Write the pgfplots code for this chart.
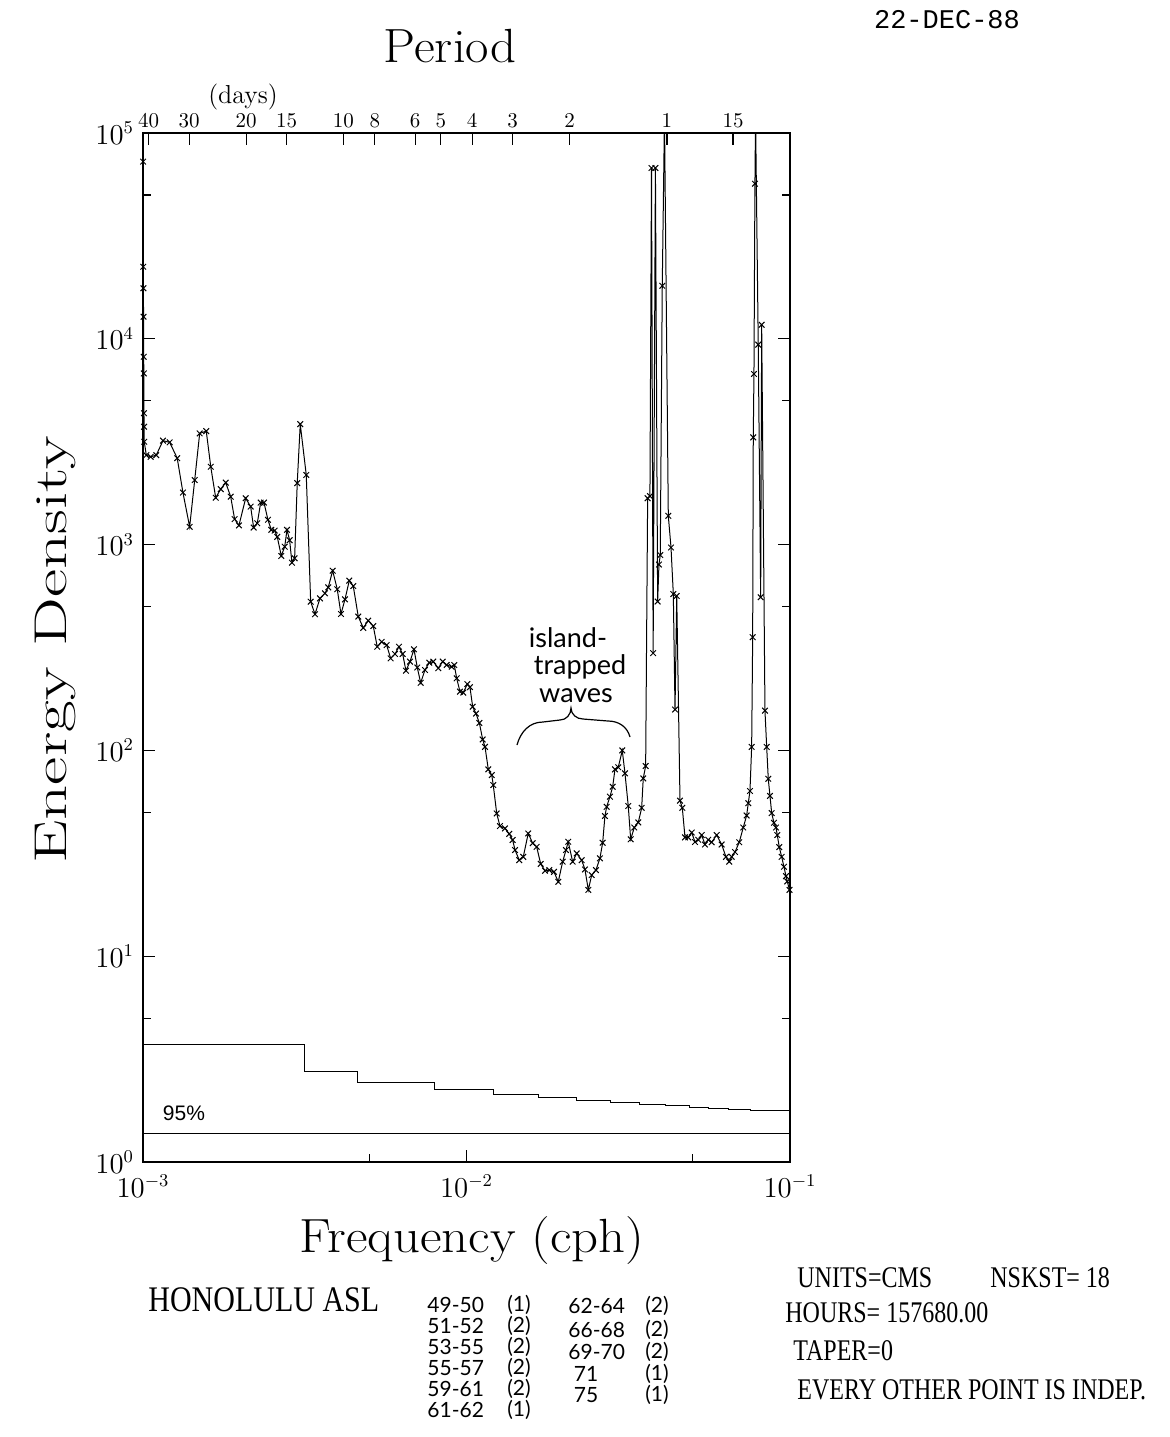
\documentclass[border=0pt]{standalone}
\usepackage{fontspec}
\usepackage{graphicx}
\usepackage{pgfplots}
\pgfplotsset{compat=1.18}
\newfontfamily\libserif{Liberation Serif}
\newfontfamily\libsans{Liberation Sans}
\newfontfamily\libmono{Liberation Mono}
\newfontfamily\hand{Lato}

\pgfplotstableread{
f E
1.0005e-3 2.0e5
1.001e-3 7.26e4
1.002e-3 2.24e4
1.003e-3 1.76e4
1.004e-3 1.28e4
1.005e-3 8.18e3
1.006e-3 6.79e3
1.007e-3 4.35e3
1.008e-3 3.74e3
1.009e-3 3.16e3
1.024e-3 2720
1.056e-3 2670
1.099e-3 2720
1.153e-3 3200
1.209e-3 3140
1.276e-3 2630
1.329e-3 1790
1.394e-3 1220
1.445e-3 2060
1.497e-3 3470
1.569e-3 3560
1.620e-3 2390
1.678e-3 1690
1.739e-3 1860
1.802e-3 2000
1.867e-3 1710
1.920e-3 1330
1.980e-3 1240
2.077e-3 1680
2.152e-3 1530
2.198e-3 1210
2.256e-3 1270
2.311e-3 1600
2.366e-3 1600
2.434e-3 1320
2.492e-3 1180
2.553e-3 1170
2.601e-3 1090
2.676e-3 881
2.742e-3 977
2.787e-3 1180
2.840e-3 1050
2.887e-3 817
2.943e-3 858
2.998e-3 1990
3.063e-3 3850
3.197e-3 2180
3.299e-3 528
3.402e-3 459
3.525e-3 548
3.652e-3 580
3.739e-3 620
3.858e-3 747
3.987e-3 607
4.093e-3 460
4.211e-3 542
4.342e-3 668
4.467e-3 629
4.629e-3 447
4.797e-3 394
4.970e-3 427
5.150e-3 402
5.298e-3 319
5.467e-3 337
5.665e-3 325
5.829e-3 280
6.012e-3 294
6.185e-3 319
6.350e-3 294
6.500e-3 244
6.688e-3 270
6.882e-3 310
7.046e-3 253
7.218e-3 213
7.443e-3 246
7.674e-3 267
7.896e-3 270
8.182e-3 251
8.442e-3 270
8.686e-3 260
9.000e-3 255
9.169e-3 260
9.327e-3 224
9.548e-3 193
9.774e-3 191
1.006e-2 210
1.025e-2 203
1.045e-2 163
1.070e-2 151
1.096e-2 136
1.122e-2 113
1.141e-2 104
1.168e-2 80.9
1.197e-2 75.9
1.210e-2 67.9
1.240e-2 49.4
1.269e-2 42.9
1.315e-2 41.8
1.356e-2 39.3
1.389e-2 36.7
1.413e-2 32.8
1.456e-2 29.3
1.498e-2 30.4
1.552e-2 39.5
1.602e-2 35.4
1.648e-2 34.0
1.696e-2 28.1
1.749e-2 26.0
1.803e-2 26.2
1.864e-2 25.7
1.922e-2 23.0
1.983e-2 28.8
2.030e-2 32.8
2.063e-2 36.0
2.129e-2 28.8
2.191e-2 31.6
2.270e-2 29.3
2.324e-2 26.4
2.380e-2 21.0
2.438e-2 24.8
2.513e-2 26.2
2.585e-2 29.9
2.636e-2 35.6
2.679e-2 48.0
2.712e-2 53.2
2.776e-2 59.6
2.831e-2 66.6
2.877e-2 80.9
2.946e-2 82.8
3.031e-2 100
3.090e-2 77.4
3.163e-2 53.7
3.218e-2 37.0
3.302e-2 42.2
3.397e-2 44.7
3.480e-2 52.6
3.519e-2 73.1
3.580e-2 84.0
3.631e-2 1680
3.691e-2 1720
3.732e-2 67600
3.776e-2 297
3.838e-2 67600
3.899e-2 529
3.936e-2 800
3.973e-2 890
4.029e-2 18100
4.093e-2 120000
4.206e-2 1380
4.288e-2 968
4.359e-2 575
4.412e-2 158
4.466e-2 563
4.571e-2 57.0
4.647e-2 52.6
4.737e-2 37.8
4.849e-2 37.8
4.968e-2 39.9
5.086e-2 35.9
5.206e-2 36.8
5.333e-2 38.8
5.460e-2 34.9
5.589e-2 36.8
5.726e-2 35.8
5.934e-2 38.8
6.149e-2 34.9
6.340e-2 30.4
6.491e-2 28.8
6.603e-2 30.4
6.761e-2 32.1
6.970e-2 35.8
7.171e-2 42.2
7.347e-2 48.3
7.432e-2 55.4
7.522e-2 63.5
7.613e-2 104
7.668e-2 355
7.701e-2 3320
7.739e-2 6750
7.794e-2 56700
7.828e-2 120000
7.980e-2 9370
8.117e-2 555
8.175e-2 11700
8.369e-2 156
8.472e-2 104
8.568e-2 72.8
8.673e-2 60.1
8.778e-2 49.6
8.923e-2 44.5
9.051e-2 42.2
9.135e-2 38.8
9.266e-2 33.9
9.425e-2 30.4
9.581e-2 27.2
9.719e-2 24.5
9.808e-2 23.1
9.966e-2 21.0
}\spectrum

\pgfplotstableread{
f E
1.000e-3 3.74
3.163e-3 2.75
4.593e-3 2.43
7.987e-3 2.245
1.211e-2 2.133
1.674e-2 2.063
2.191e-2 2.001
2.787e-2 1.957
3.425e-2 1.913
4.126e-2 1.877
4.887e-2 1.844
5.614e-2 1.816
6.451e-2 1.795
7.528e-2 1.775
1.000e-1 1.775
}\conf

\begin{document}
\begin{tikzpicture}
\useasboundingbox (0,0) rectangle (584.5pt,-718.5pt);
\begin{axis}[
  at={(71.5pt,-66.5pt)}, anchor=north west, scale only axis,
  width=323.5pt, height=514.5pt,
  xmode=log, ymode=log, xmin=1e-3, xmax=1e-1, ymin=1, ymax=1e5,
  xtick={1e-3,1e-2,1e-1}, ytick={1,10,100,1000,10000,100000},
  minor xtick={5e-3,5e-2}, minor ytick={5,50,500,5000,50000},
  xtick pos=bottom, ytick pos=both,
  tick align=inside,
  major tick length=6pt, minor tick length=4pt,
  every tick/.style={black, line width=0.6pt},
  axis line style={line width=1.3pt},
  tick label style={font=\fontsize{13.5}{15}\selectfont},
  xticklabel style={yshift=-3pt},
  yticklabel style={xshift=-1pt},
  clip=true,
]
\addplot[black, line width=0.5pt, mark=x, mark size=2pt, mark options={line width=0.5pt}] table[x=f,y=E] {\spectrum};
\addplot[black, line width=0.5pt, const plot mark left, mark=none] table[x=f,y=E] {\conf};
\addplot[black, line width=0.5pt, mark=none] coordinates {(1e-3,1.379) (1e-1,1.379)};
\end{axis}
\begin{axis}[
  at={(71.5pt,-66.5pt)}, anchor=north west, scale only axis,
  width=323.5pt, height=514.5pt,
  xmode=log, ymode=log, xmin=1e-3, xmax=1e-1, ymin=1, ymax=1e5,
  axis x line*=top, axis y line=none,
  xtick={1.04167e-3,1.38889e-3,2.08333e-3,2.77778e-3,4.16667e-3,5.20833e-3,6.94444e-3,8.33333e-3,1.041667e-2,1.388889e-2,2.083333e-2,4.166667e-2,6.666667e-2},
  xticklabels={40,30,20,15,10,8,6,5,4,3,2,1,15},
  xminorticks=false,
  tick align=inside, major tick length=6pt,
  every tick/.style={black, line width=0.6pt},
  axis line style={line width=1.3pt},
  xticklabel style={font=\fontsize{10.5}{12}\selectfont, yshift=-1pt},
]
\end{axis}
\begin{scope}[x=0.5pt,y=-0.5pt]
\node[inner sep=0] at (947,20) {\libmono\fontsize{13.5}{16}\selectfont 22-DEC-88};
\node[inner sep=0] at (450,46) {\scalebox{1.06}[1]{\fontsize{24}{28}\selectfont Period}};
\node[inner sep=0] at (243,97) {\fontsize{13}{15}\selectfont (days)};
\node[inner sep=0] at (472,1241) {\scalebox{1.1}[1]{\fontsize{24}{28}\selectfont Frequency (cph)}};
\node[inner sep=0,rotate=90] at (55,650) {\scalebox{1.5}[1]{\fontsize{23}{27}\selectfont Energy Density}};
\node[inner sep=0] at (184,1113) {\libsans\fontsize{10.5}{12}\selectfont 95\%};
% handwritten annotation
\node[inner sep=0] at (568,638) {\hand\fontsize{13.5}{16}\selectfont island-};
\node[inner sep=0] at (580,667) {\hand\fontsize{13.5}{16}\selectfont trapped};
\node[inner sep=0] at (576,696) {\hand\fontsize{13.5}{16}\selectfont waves};
\draw[line width=0.6pt] (517,745) to[out=75,in=180] (543,722) -- (560,720) to[out=0,in=-90] (571,708) to[out=-90,in=180] (583,719) -- (608,721) to[out=0,in=105] (630,737);
% bottom left
\node[inner sep=0,anchor=west] at (148,1300) {\libserif\scalebox{1}[1.2]{\fontsize{15}{18}\selectfont HONOLULU ASL}};
% handwritten table
\begin{scope}[every node/.style={inner sep=0}, font=\hand\fontsize{10.5}{12}\selectfont]
\node[anchor=west] at (427,1305) {49-50};
\node[anchor=west] at (427,1326) {51-52};
\node[anchor=west] at (427,1347) {53-55};
\node[anchor=west] at (427,1368) {55-57};
\node[anchor=west] at (427,1389) {59-61};
\node[anchor=west] at (427,1410) {61-62};
\node at (519,1305) {(1)};
\node at (519,1326) {(2)};
\node at (519,1347) {(2)};
\node at (519,1368) {(2)};
\node at (519,1389) {(2)};
\node at (519,1410) {(1)};
\node[anchor=west] at (568,1306) {62-64};
\node[anchor=west] at (568,1330) {66-68};
\node[anchor=west] at (568,1352) {69-70};
\node at (586,1374) {71};
\node at (586,1395) {75};
\node at (657,1306) {(2)};
\node at (657,1330) {(2)};
\node at (657,1352) {(2)};
\node at (657,1374) {(1)};
\node at (657,1395) {(1)};
\end{scope}
% bottom right
\begin{scope}[every node/.style={inner sep=0, anchor=west}, font=\libserif\fontsize{12}{14}\selectfont]
\node at (797,1278) {\scalebox{1}[1.25]{UNITS=CMS}};
\node at (990,1278) {\scalebox{1}[1.25]{NSKST= 18}};
\node at (785,1313) {\scalebox{1}[1.25]{HOURS= 157680.00}};
\node at (793,1351) {\scalebox{1}[1.25]{TAPER=0}};
\node at (797,1390) {\scalebox{1}[1.25]{EVERY OTHER POINT IS INDEP.}};
\end{scope}
\end{scope}
\end{tikzpicture}
\end{document}
